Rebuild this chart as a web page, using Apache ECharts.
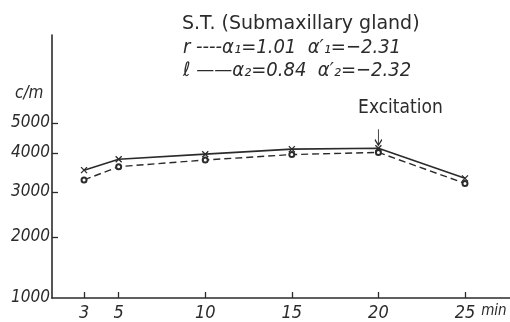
<!DOCTYPE html>
<html>
<head>
<meta charset="utf-8">
<script src="https://cdn.jsdelivr.net/npm/echarts@6/dist/echarts.min.js"></script>
<style>
html, body { margin: 0; padding: 0; background: #fff; }
#chart { width: 510px; height: 322px; }
</style>
</head>
<body>
<div id="chart"></div>
<script>
// time (min)
const minutes = [3, 5, 10, 15, 20, 25];
// r ---- (o)  counts / min
const rightGland = [3310, 3650, 3820, 3960, 4020, 3220];
// l —— (x)
const leftGland = [3560, 3840, 3970, 4130, 4160, 3350];

const xTicks = [3, 5, 10, 15, 20, 25];
const yTicks = [1000, 2000, 3000, 4000, 5000];

// the y scale on the sheet is drawn by hand, not linear / not log:
// height of each tick above the 1000 line
const yTickHeight = [0, 61, 106, 145, 175];

const ink = '#2b2b2b';
const numFont = "'DejaVu Sans Condensed', sans-serif";

function scaleY(v) {
    let i = 0;
    while (i < yTicks.length - 2 && v > yTicks[i + 1]) i++;
    const t = (v - yTicks[i]) / (yTicks[i + 1] - yTicks[i]);
    return yTickHeight[i] + t * (yTickHeight[i + 1] - yTickHeight[i]);
}

function toPoints(vals) {
    return minutes.map((m, i) => [m, scaleY(vals[i])]);
}

const chart = echarts.init(document.getElementById('chart'));

chart.setOption({
    animation: false,
    title: [
        {
            text: 'S.T. (Submaxillary gland)',
            left: 177, top: 10,
            textStyle: { fontFamily: 'DejaVu Sans', fontWeight: 'normal', fontSize: 19, color: ink }
        },
        {
            text: 'r ----α₁=1.01  α′₁=−2.31',
            left: 178, top: 33,
            textStyle: { fontFamily: numFont, fontStyle: 'italic', fontWeight: 'normal', fontSize: 20, color: ink }
        },
        {
            text: 'ℓ ——α₂=0.84  α′₂=−2.32',
            left: 178, top: 56,
            textStyle: { fontFamily: numFont, fontStyle: 'italic', fontWeight: 'normal', fontSize: 20, color: ink }
        }
    ],
    graphic: [{
        type: 'text',
        left: 15, top: 85,
        style: { text: 'c/m', font: 'italic 17px ' + numFont, fill: ink }
    }],
    grid: { left: 52, right: 0, top: 35, bottom: 24 },
    xAxis: {
        type: 'value',
        min: 1.15,
        max: 27.6,
        name: 'min',
        nameLocation: 'end',
        nameGap: -31,
        nameTextStyle: { fontFamily: numFont, fontStyle: 'italic', fontSize: 15, color: ink, verticalAlign: 'top', padding: [6, 0, 0, 0] },
        axisLine: { lineStyle: { color: ink, width: 1.6 } },
        axisTick: { inside: true, length: 6, customValues: xTicks, lineStyle: { color: ink, width: 1.3 } },
        axisLabel: { customValues: xTicks, margin: 6, fontFamily: numFont, fontStyle: 'italic', fontSize: 18, color: ink },
        splitLine: { show: false }
    },
    yAxis: {
        type: 'value',
        min: 0,
        max: 263,
        axisLine: { show: true, lineStyle: { color: ink, width: 1.6 } },
        axisTick: { show: true, inside: true, length: 6, customValues: yTicks.slice(1).map(scaleY), lineStyle: { color: ink, width: 1.3 } },
        axisLabel: {
            customValues: yTicks.map(scaleY),
            margin: 2,
            fontFamily: numFont, fontStyle: 'italic', fontSize: 17, color: ink,
            formatter(v) {
                const k = yTicks.findIndex(t => Math.abs(scaleY(t) - v) < 0.01);
                return k < 0 ? '' : String(yTicks[k]);
            }
        },
        splitLine: { show: false }
    },
    series: [
        {
            name: 'r',
            type: 'line',
            data: toPoints(rightGland),
            symbol: 'emptyCircle',
            symbolSize: 5,
            lineStyle: { color: ink, width: 1.4, type: [7, 4] },
            itemStyle: { color: ink, borderColor: ink, borderWidth: 1.2 },
            z: 2
        },
        {
            name: 'l',
            type: 'line',
            data: toPoints(leftGland),
            symbol: 'path://M0,0 L10,10 M10,0 L0,10',
            symbolSize: 6,
            lineStyle: { color: ink, width: 1.6 },
            itemStyle: { color: 'none', borderColor: ink, borderWidth: 1.3 },
            z: 3,
            markPoint: {
                symbol: 'path://M5,0 L5,20 M1,13 L5,20 L9,13',
                symbolSize: [7, 16],
                symbolOffset: [0, -11],
                itemStyle: { color: 'none', borderColor: ink, borderWidth: 1.3 },
                label: {
                    show: true,
                    position: 'top',
                    offset: [22, -3],
                    formatter: 'Excitation',
                    fontFamily: 'DejaVu Sans Condensed', fontSize: 19, color: ink
                },
                data: [{ coord: [20, scaleY(4160)] }]
            }
        }
    ]
});
</script>
</body>
</html>
